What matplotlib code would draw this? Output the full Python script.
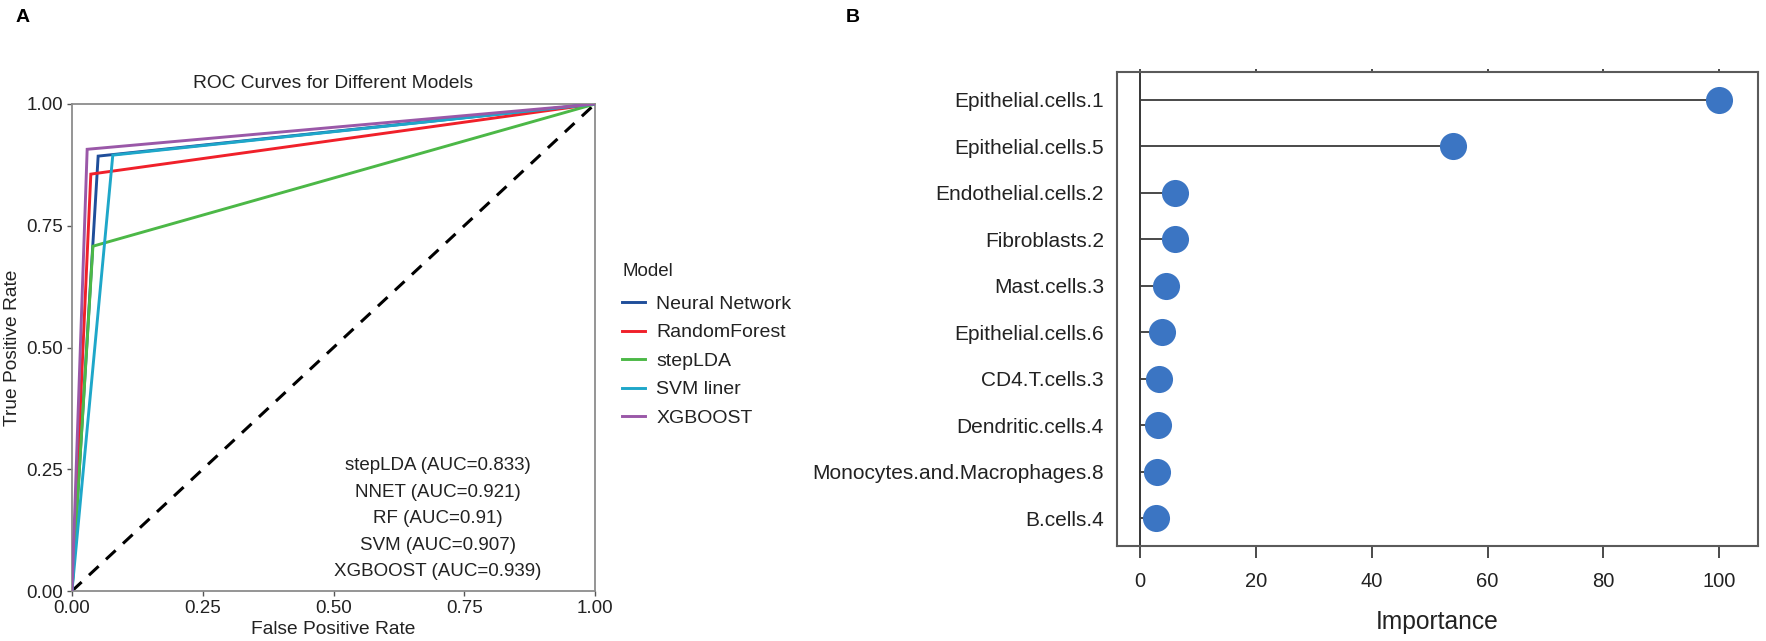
import matplotlib
matplotlib.use("Agg")
import matplotlib.pyplot as plt
from matplotlib.lines import Line2D

plt.rcParams['font.family'] = ['Liberation Sans', 'DejaVu Sans']

# ---------------- data ----------------
models = ["Neural Network", "RandomForest", "stepLDA", "SVM liner", "XGBOOST"]
model_colors = ["#1f4e9a", "#f0202a", "#4cb847", "#1ea7c9", "#9a58a8"]
fpr_pts = [0.050, 0.036, 0.040, 0.078, 0.029]
tpr_pts = [0.893, 0.856, 0.708, 0.895, 0.907]

auc_names = ["stepLDA", "NNET", "RF", "SVM", "XGBOOST"]
auc_values = ["0.833", "0.921", "0.91", "0.907", "0.939"]

roc_ticks = [0.00, 0.25, 0.50, 0.75, 1.00]
roc_ticklabels = ["0.00", "0.25", "0.50", "0.75", "1.00"]

features = ["Epithelial.cells.1", "Epithelial.cells.5", "Endothelial.cells.2",
            "Fibroblasts.2", "Mast.cells.3", "Epithelial.cells.6",
            "CD4.T.cells.3", "Dendritic.cells.4",
            "Monocytes.and.Macrophages.8", "B.cells.4"]
importance = [100, 54.1, 6.1, 6.0, 4.5, 3.8, 3.3, 3.1, 3.0, 2.7]
imp_ticks = [0, 20, 40, 60, 80, 100]

# ---------------- figure ----------------
W, H = 1766, 641
fig = plt.figure(figsize=(W / 100, H / 100), dpi=100)

def px_axes(l, t, r, b):
    return fig.add_axes([l / W, 1 - b / H, (r - l) / W, (b - t) / H])

TXT = "#222222"

# ---------- Panel A : ROC ----------
ax = px_axes(72, 104, 595, 591)
for name, col, fx, ty in zip(models, model_colors, fpr_pts, tpr_pts):
    ax.plot([0, fx, 1], [0, ty, 1], color=col, lw=2.1, label=name,
            solid_joinstyle='miter', zorder=3)
ax.plot([0, 1], [0, 1], color="black", lw=2.2, linestyle=(0, (4.3, 3.3)), zorder=2)
ax.set_xlim(0, 1)
ax.set_ylim(0, 1)
ax.set_xticks(roc_ticks)
ax.set_xticklabels(roc_ticklabels)
ax.set_yticks(roc_ticks)
ax.set_yticklabels(roc_ticklabels)
for s in ax.spines.values():
    s.set_color("#8c8c8c")
    s.set_linewidth(1.3)
ax.tick_params(axis='both', length=3.6, width=1.0, color="#555555",
               labelsize=13.5, labelcolor=TXT, pad=3)
ax.set_xlabel("False Positive Rate", fontsize=13.8, color=TXT)
ax.set_ylabel("True Positive Rate", fontsize=13.8, color=TXT)
ax.xaxis.set_label_coords(0.5, (591 - 630) / 487)
ax.xaxis.label.set_va('center')
ax.yaxis.set_label_coords((13 - 72) / 523, 0.5)
ax.yaxis.label.set_va('center')
ax.text(0.5, 1 + 20 / 487, "ROC Curves for Different Models", transform=ax.transAxes,
        ha='center', va='center', fontsize=13.8, color=TXT)
auc_text = "\n".join(f"{n} (AUC={v})" for n, v in zip(auc_names, auc_values))
ax.text(0.700, 0.148, auc_text, ha='center', va='center', multialignment='center',
        fontsize=13.5, color=TXT, linespacing=1.73)

handles = [Line2D([0], [0], color=c, lw=2.1) for c in model_colors]
leg = fig.legend(handles, models, title="Model", loc='upper left',
                 bbox_to_anchor=(622 / W, 1 - 263 / H), frameon=False,
                 fontsize=14, title_fontsize=13.5, labelspacing=0.56,
                 handlelength=1.2, handletextpad=0.57, alignment='left',
                 borderaxespad=0, borderpad=0)
leg._legend_box.sep = 11.0
for t in leg.get_texts():
    t.set_color(TXT)
leg.get_title().set_color(TXT)

# ---------- Panel B : importance ----------
bx = px_axes(1117, 72, 1758, 546)
ypos = list(range(1, len(features) + 1))
bx.axvline(0, color="black", lw=1.1, zorder=1)
bx.hlines(ypos, 0, importance, color="#3a3a3a", lw=1.3, zorder=2)
bx.plot(importance, ypos, 'o', color="#3b75c3", markersize=19.5,
        markeredgewidth=0, zorder=3)
bx.set_xlim(-3.97, 106.7)
bx.set_ylim(len(features) + 0.6, 0.4)
bx.set_yticks(ypos)
bx.set_yticklabels(features)
bx.set_xticks(imp_ticks)
bx.set_xticklabels([str(v) for v in imp_ticks])
for s in bx.spines.values():
    s.set_color("#5a5a5a")
    s.set_linewidth(1.5)
bx.tick_params(axis='y', length=0, pad=9.4, labelsize=15, labelcolor=TXT)
bx.tick_params(axis='x', which='both', top=True, length=8.6, width=1.4,
               color="#4a4a4a", labelsize=14.5, labelcolor=TXT, pad=10)
for tk in bx.xaxis.get_major_ticks():
    tk.tick2line.set_markersize(2)
bx.set_xlabel("Importance", fontsize=17.7, color=TXT)
bx.xaxis.set_label_coords(0.5, (546 - 622) / 474)
bx.xaxis.label.set_va('center')

# panel letters
fig.text(23 / W, 1 - 17.5 / H, "A", fontsize=14, fontweight='bold', ha='center', va='center')
fig.text(853 / W, 1 - 17.5 / H, "B", fontsize=14, fontweight='bold', ha='center', va='center')

fig.savefig("out.png", dpi=100)
